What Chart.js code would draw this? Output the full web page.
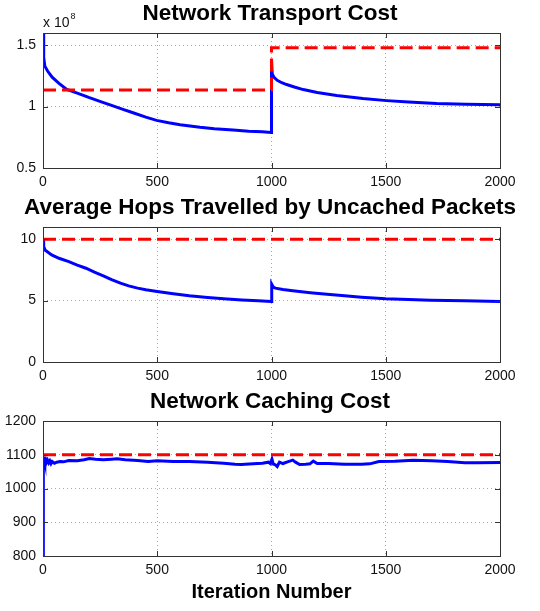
<!DOCTYPE html>
<html>
<head>
<meta charset="utf-8">
<script src="https://cdn.jsdelivr.net/npm/chart.js@4"></script>
<style>
  body { margin: 0; background: #fff; }
  #wrap { width: 540px; height: 611px; position: relative; }
  canvas { display: block; }
</style>
</head>
<body>
<div id="wrap">
  <canvas id="transportChart" width="540" height="194"></canvas>
  <canvas id="hopsChart" width="540" height="194"></canvas>
  <canvas id="cachingChart" width="540" height="223"></canvas>
</div>
<script>
// values
const xTicks = [0, 500, 1000, 1500, 2000];

// network transport cost, in units of 1e8
const transportIters = [0, 3, 8, 20, 40, 70, 104, 150, 200, 249, 300, 350, 394, 450, 497, 550, 600, 687, 750, 832, 900, 960, 999,
  1000, 1003, 1010, 1025, 1045, 1066, 1100, 1139, 1200, 1285, 1400, 1504, 1600, 1723, 1850, 2000];
const transportCost = [1.60, 1.40, 1.33, 1.29, 1.24, 1.19, 1.14, 1.11, 1.075, 1.043, 1.01, 0.978, 0.95, 0.915, 0.888, 0.868, 0.853, 0.832, 0.82, 0.81, 0.80, 0.795, 0.79,
  1.385, 1.27, 1.24, 1.215, 1.195, 1.18, 1.16, 1.139, 1.115, 1.09, 1.066, 1.049, 1.037, 1.025, 1.02, 1.016];
const transportBaseIters = [0, 1000, 1000, 2000];
const transportBase = [1.135, 1.135, 1.48, 1.48];
const transportTicks = [0.5, 1, 1.5];

// average hops travelled by uncached packets
const hopsIters = [0, 3, 10, 38, 70, 113, 150, 188, 225, 264, 300, 339, 375, 414, 450, 500, 570, 640, 720, 791, 870, 942, 999,
  1001, 1008, 1017, 1050, 1093, 1170, 1243, 1320, 1394, 1500, 1600, 1696, 1846, 2000];
const hops = [10.0, 9.4, 9.1, 8.73, 8.45, 8.18, 7.9, 7.64, 7.32, 7.02, 6.72, 6.42, 6.2, 6.02, 5.88, 5.75, 5.56, 5.39, 5.25, 5.15, 5.06, 4.99, 4.93,
  6.34, 6.1, 6.02, 5.9, 5.8, 5.65, 5.53, 5.4, 5.28, 5.15, 5.09, 5.04, 4.99, 4.93];
const hopsBaseIters = [0, 2000];
const hopsBase = [10, 10];
const hopsTicks = [0, 5, 10];

// network caching cost
const cachingIters = [0, 1, 2, 5, 8, 12, 16, 20, 25, 30, 35, 40, 50, 60, 75, 90, 113, 150, 180, 203, 230, 264, 300, 324, 360, 414,
  460, 500, 570, 640, 720, 791, 840, 867, 920, 960, 987, 995, 1002, 1008, 1017, 1025, 1035, 1050, 1070, 1093, 1105, 1123, 1150,
  1168, 1183, 1200, 1250, 1319, 1394, 1430, 1470, 1540, 1620, 1700, 1771, 1846, 1900, 2000];
const caching = [800, 1095, 1093, 1090, 1080, 1086, 1078, 1084, 1076, 1082, 1074, 1080, 1075, 1078, 1080, 1079, 1083, 1082, 1085, 1089,
  1087, 1085, 1087, 1088, 1085, 1083, 1080, 1082, 1080, 1080, 1078, 1075, 1072, 1071, 1073, 1075, 1078, 1074, 1087, 1072, 1070,
  1065, 1078, 1074, 1079, 1084, 1078, 1071, 1072, 1073, 1081, 1074, 1074, 1072, 1072, 1073, 1080, 1081, 1084, 1082, 1080, 1076, 1076, 1077];
const cachingBaseIters = [0, 2000];
const cachingBase = [1100, 1100];
const cachingTicks = [800, 900, 1000, 1100, 1200];

Chart.defaults.font.family = '"Liberation Sans", Arial, sans-serif';
Chart.defaults.font.size = 14;
Chart.defaults.color = '#111';

const toPoints = (xs, ys) => xs.map((x, i) => ({ x: x, y: ys[i] }));

// matlab style box with inward ticks, plus the exponent label
const framePlugin = {
  id: 'frame',
  afterDatasetsDraw(chart, args, opts) {
    const { ctx, chartArea: a, scales } = chart;
    ctx.save();
    ctx.strokeStyle = '#333';
    ctx.lineWidth = 1;
    ctx.strokeRect(a.left + 0.5, a.top + 0.5, a.right - a.left, a.bottom - a.top);
    ctx.beginPath();
    scales.x.ticks.forEach(t => {
      const px = Math.round(scales.x.getPixelForValue(t.value)) + 0.5;
      ctx.moveTo(px, a.bottom); ctx.lineTo(px, a.bottom - 5);
      ctx.moveTo(px, a.top); ctx.lineTo(px, a.top + 5);
    });
    scales.y.ticks.forEach(t => {
      const py = Math.round(scales.y.getPixelForValue(t.value)) + 0.5;
      ctx.moveTo(a.left, py); ctx.lineTo(a.left + 5, py);
      ctx.moveTo(a.right, py); ctx.lineTo(a.right - 5, py);
    });
    ctx.stroke();
    if (opts.exponent) {
      ctx.fillStyle = '#111';
      ctx.textBaseline = 'alphabetic';
      ctx.textAlign = 'left';
      ctx.font = '14px "Liberation Sans", Arial, sans-serif';
      ctx.fillText('x 10', a.left, a.top - 6);
      const w = ctx.measureText('x 10').width;
      ctx.font = '9px "Liberation Sans", Arial, sans-serif';
      ctx.fillText(opts.exponent, a.left + w + 1, a.top - 14);
    }
    ctx.restore();
  }
};

function makeChart(id, cfg) {
  const ctx = document.getElementById(id).getContext('2d');
  return new Chart(ctx, {
    type: 'line',
    data: {
      datasets: [{
        data: toPoints(cfg.baseIters, cfg.base),
        borderColor: '#ff0000',
        borderWidth: 3,
        borderDash: [13, 6],
        pointRadius: 0,
        tension: 0
      }, {
        data: toPoints(cfg.iters, cfg.values),
        borderColor: '#0000ff',
        borderWidth: 3,
        pointRadius: 0,
        tension: 0
      }]
    },
    options: {
      responsive: false,
      animation: false,
      layout: { padding: 0 },
      plugins: {
        legend: { display: false },
        tooltip: { enabled: false },
        title: {
          display: true,
          text: cfg.title,
          color: '#000',
          font: { size: 22.5, weight: 'bold', lineHeight: 1.2 },
          padding: { top: 0, bottom: 6 }
        },
        frame: { exponent: cfg.exponent }
      },
      scales: {
        x: {
          type: 'linear',
          min: 0,
          max: 2000,
          afterBuildTicks: s => { s.ticks = xTicks.map(v => ({ value: v })); },
          afterFit: s => { s.height = cfg.xHeight; },
          ticks: { padding: 6, maxRotation: 0, callback: v => String(v) },
          grid: { color: '#a8a8a8', drawTicks: false },
          border: { display: false, dash: [1, 3] },
          title: {
            display: !!cfg.xTitle,
            text: cfg.xTitle || '',
            color: '#000',
            font: { size: 20, weight: 'bold', lineHeight: 1.2 },
            padding: { top: 0, bottom: 7 }
          }
        },
        y: {
          min: cfg.yMin,
          max: cfg.yMax,
          afterBuildTicks: s => { s.ticks = cfg.yTicks.map(v => ({ value: v })); },
          afterFit: s => { s.width = 43; },
          ticks: { padding: 7, callback: v => String(v) },
          grid: { color: '#a8a8a8', drawTicks: false },
          border: { display: false, dash: [1, 3] }
        },
        // empty right-hand axis that only reserves the margin
        yRight: {
          position: 'right',
          afterFit: s => { s.width = 40; },
          ticks: { display: false },
          grid: { display: false },
          border: { display: false }
        }
      }
    },
    plugins: [framePlugin]
  });
}

makeChart('transportChart', {
  title: 'Network Transport Cost',
  iters: transportIters, values: transportCost,
  baseIters: transportBaseIters, base: transportBase,
  yMin: 0.5, yMax: 1.6, yTicks: transportTicks,
  xHeight: 26, exponent: '8'
});

makeChart('hopsChart', {
  title: 'Average Hops Travelled by Uncached Packets',
  iters: hopsIters, values: hops,
  baseIters: hopsBaseIters, base: hopsBase,
  yMin: 0, yMax: 11, yTicks: hopsTicks,
  xHeight: 26
});

makeChart('cachingChart', {
  title: 'Network Caching Cost',
  iters: cachingIters, values: caching,
  baseIters: cachingBaseIters, base: cachingBase,
  yMin: 800, yMax: 1200, yTicks: cachingTicks,
  xHeight: 55, xTitle: 'Iteration Number'
});
</script>
</body>
</html>
